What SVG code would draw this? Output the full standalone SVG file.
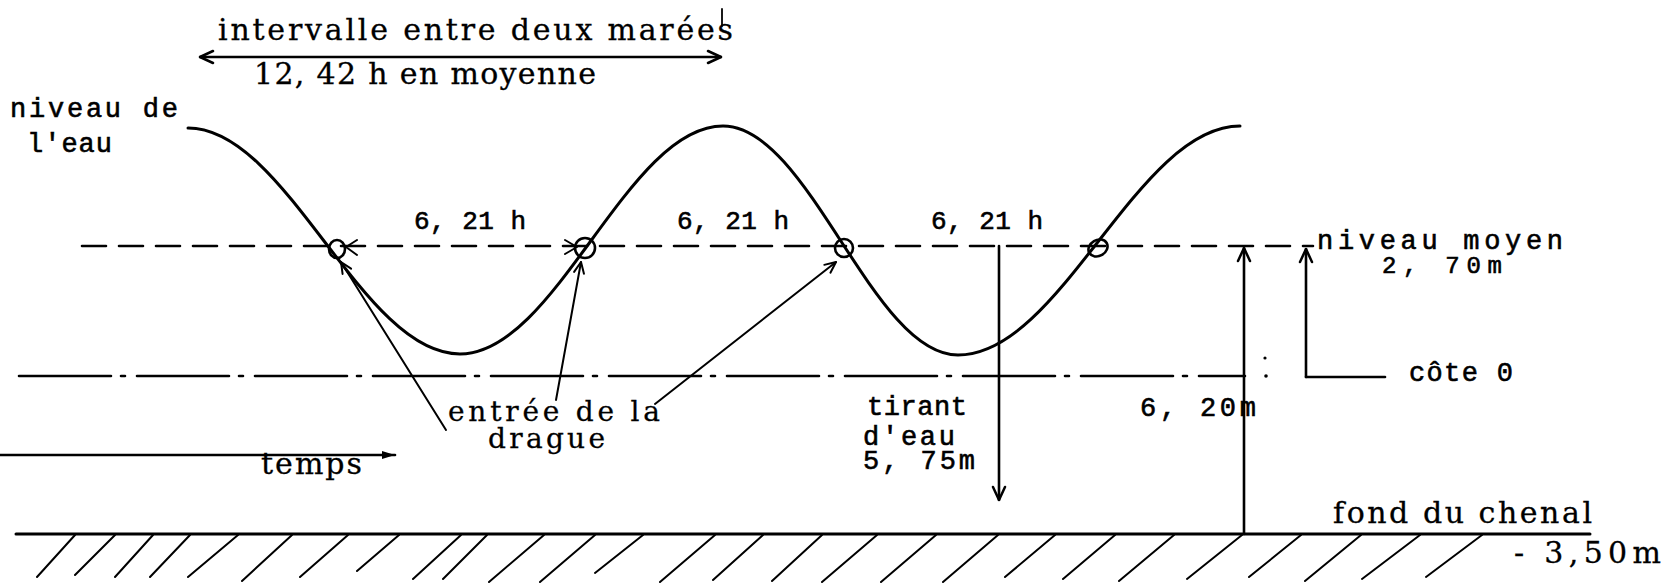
<svg xmlns="http://www.w3.org/2000/svg" width="1668" height="583" viewBox="0 0 1668 583">
<defs>
<style>
.cs{font-family:"DejaVu Serif","Liberation Serif",serif;font-size:30px;fill:#000;stroke:#000;stroke-width:0.3}
.tw{font-family:"Liberation Mono","DejaVu Sans Mono",monospace;font-size:27px;fill:#000;stroke:#000;stroke-width:0.6}
.ln{fill:none;stroke:#000;stroke-linecap:round;stroke-linejoin:round}
.curve{stroke-width:3}
.thin{stroke-width:2}
.med{stroke-width:2.6}
</style>
<marker id="v" viewBox="0 0 16 16" refX="15" refY="8" markerWidth="16" markerHeight="16" markerUnits="userSpaceOnUse" orient="auto-start-reverse">
<path d="M2,2 L15,8 L2,14" fill="none" stroke="#000" stroke-width="2.5" stroke-linecap="round" stroke-linejoin="round"/>
</marker>
<marker id="vs" viewBox="0 0 14 14" refX="13" refY="7" markerWidth="14" markerHeight="14" markerUnits="userSpaceOnUse" orient="auto">
<path d="M2,2 L13,7 L2,12" fill="none" stroke="#000" stroke-width="2" stroke-linecap="round" stroke-linejoin="round"/>
</marker>
<marker id="tri" viewBox="0 0 14 10" refX="13" refY="5" markerWidth="14" markerHeight="10" markerUnits="userSpaceOnUse" orient="auto">
<path d="M0,1 L13,5 L0,9 Z" fill="#000"/>
</marker>
</defs>
<rect width="1668" height="583" fill="#fff"/>

<g id="reference-lines">
<path class="ln med" d="M82,246 H1313" stroke-dasharray="24 13"/>
<path class="ln med" d="M19,376 H1245" stroke-dasharray="92 10 4 12" stroke-linecap="butt"/>
<circle cx="1265" cy="358" r="1.6" fill="#000"/>
<circle cx="1266" cy="376" r="1.8" fill="#000"/>
</g>

<g id="tide-curve">
<path class="ln curve" d="M188,128 C287,128 361,354 460,354 C556,354 627,126 723,126 C809,126 872,355 958,355 C1061,355 1137,126 1240,126"/>
<ellipse class="ln med" cx="337" cy="249" rx="8" ry="9"/>
<ellipse class="ln med" cx="585" cy="248" rx="10" ry="10"/>
<ellipse class="ln med" cx="844" cy="248" rx="9" ry="9"/>
<ellipse class="ln med" cx="1098" cy="248" rx="10" ry="8" transform="rotate(-30 1098 248)"/>
</g>

<g id="ground">
<path class="ln" stroke-width="3" d="M16,534 H1590"/>
<path class="ln thin" d="M75,535 l-38,42 M115,535 l-40,40 M153,535 l-38,42 M190,535 l-40,42 M238,535 l-50,42 M292,535 l-50,46 M348,535 l-48,42 M399,535 l-42,36 M461,535 l-48,44 M487,535 l-44,44 M544,535 l-55,47 M595,535 l-55,47 M643,535 l-48,38 M715,535 l-55,47 M763,535 l-50,45 M822,535 l-50,46 M877,535 l-55,47 M936,535 l-55,47 M998,535 l-55,47 M1055,535 l-50,42 M1115,535 l-52,44 M1174,535 l-55,46 M1242,535 l-55,44 M1301,535 l-52,42 M1361,535 l-56,46 M1420,535 l-58,44 M1482,535 l-56,42"/>
</g>

<g id="connectors">
<line class="ln med" x1="200" y1="57" x2="721" y2="57" marker-start="url(#v)" marker-end="url(#v)"/>
<line class="ln" stroke-width="1.8" x1="722" y1="9" x2="722" y2="26"/>
<line class="ln med" x1="0" y1="455" x2="395" y2="455" marker-end="url(#tri)"/>
<polyline class="ln thin" points="357,240 346,247 357,255"/>
<polyline class="ln thin" points="565,240 577,247 565,254"/>
<line class="ln thin" x1="446" y1="430" x2="341" y2="262" marker-end="url(#vs)"/>
<line class="ln thin" x1="556" y1="400" x2="581" y2="262" marker-end="url(#vs)"/>
<line class="ln thin" x1="655" y1="404" x2="836" y2="262" marker-end="url(#vs)"/>
<line class="ln med" x1="999" y1="246" x2="999" y2="500" marker-end="url(#v)"/>
<line class="ln med" x1="1244" y1="534" x2="1244" y2="248" marker-end="url(#v)"/>
<line class="ln med" x1="1306" y1="377" x2="1306" y2="249" marker-end="url(#v)"/>
<line class="ln med" x1="1306" y1="377" x2="1385" y2="377"/>
</g>

<g id="label-intervalle"><text class="cs" x="218" y="40" textLength="515" lengthAdjust="spacing">intervalle entre deux marées</text></g>
<g id="label-moyenne"><text class="cs" x="254" y="84" textLength="342" lengthAdjust="spacing">12, 42 h en moyenne</text></g>
<g id="label-niveau-eau">
<text class="tw" x="10" y="117" textLength="168" lengthAdjust="spacing">niveau de</text>
<text class="tw" x="27" y="152" textLength="85" lengthAdjust="spacing">l'eau</text>
</g>
<g id="label-621-a"><text class="tw" x="414" y="229" textLength="112" lengthAdjust="spacing" style="font-size:26px">6, 21 h</text></g>
<g id="label-621-b"><text class="tw" x="677" y="229" textLength="112" lengthAdjust="spacing" style="font-size:26px">6, 21 h</text></g>
<g id="label-621-c"><text class="tw" x="931" y="229" textLength="112" lengthAdjust="spacing" style="font-size:26px">6, 21 h</text></g>
<g id="label-niveau-moyen">
<text class="tw" x="1317" y="249" textLength="246" lengthAdjust="spacing">niveau moyen</text>
<text class="tw" x="1382" y="273" textLength="120" lengthAdjust="spacing" style="font-size:24px">2, 70m</text>
</g>
<g id="label-cote"><text class="tw" x="1409" y="381" textLength="104" lengthAdjust="spacing">côte 0</text></g>
<g id="label-tirant">
<text class="tw" x="867" y="415" textLength="100" lengthAdjust="spacing">tirant</text>
<text class="tw" x="863" y="445" textLength="92" lengthAdjust="spacing">d'eau</text>
<text class="tw" x="863" y="469" textLength="112" lengthAdjust="spacing">5, 75m</text>
</g>
<g id="label-620"><text class="tw" x="1140" y="416" textLength="116" lengthAdjust="spacing">6, 20m</text></g>
<g id="label-drague">
<text class="cs" x="448" y="421" textLength="212" lengthAdjust="spacing" style="font-size:28px">entrée de la</text>
<text class="cs" x="488" y="448" textLength="117" lengthAdjust="spacing" style="font-size:28px">drague</text>
</g>
<g id="label-temps"><text class="cs" x="261" y="474" textLength="101" lengthAdjust="spacing">temps</text></g>
<g id="label-fond">
<text class="cs" x="1333" y="523" textLength="259" lengthAdjust="spacing">fond du chenal</text>
<text class="cs" x="1514" y="563" textLength="147" lengthAdjust="spacing">- 3,50m</text>
</g>
</svg>
